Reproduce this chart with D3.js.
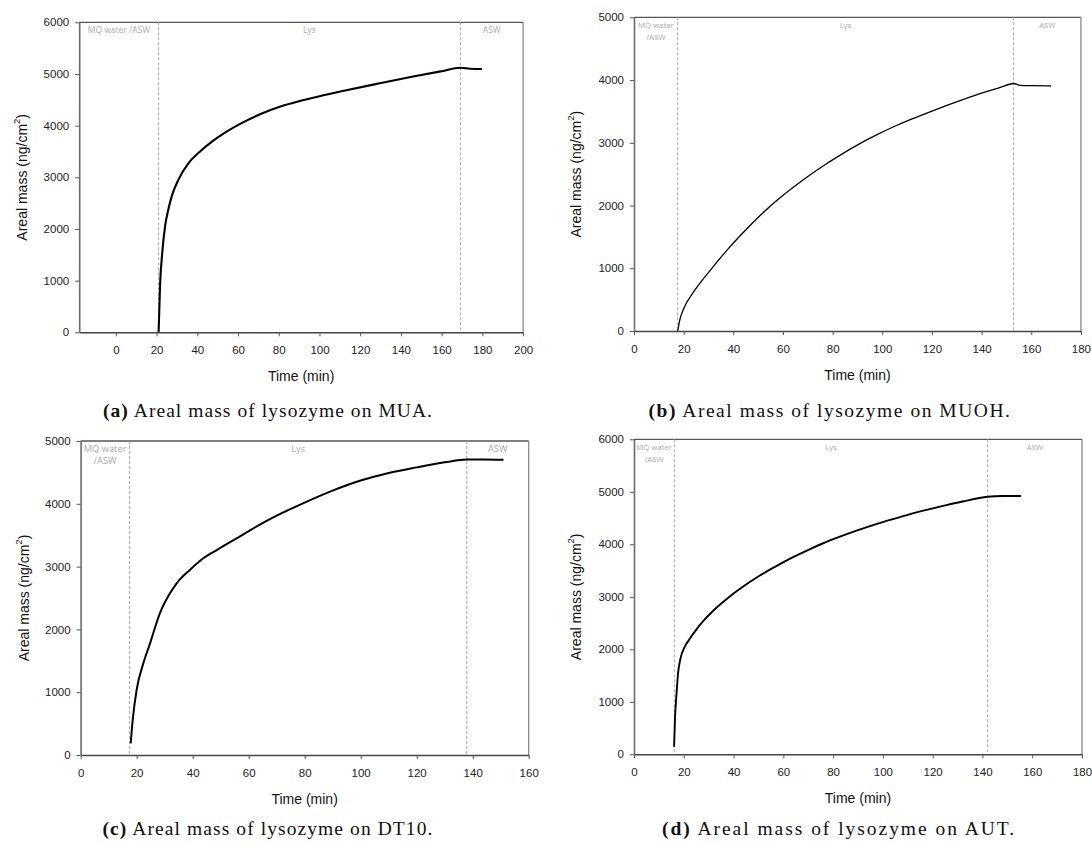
<!DOCTYPE html>
<html><head><meta charset="utf-8">
<script src="https://cdn.jsdelivr.net/npm/d3@7"></script>
<style>body{margin:0;background:#fff} svg{display:block}</style>
</head><body>
<svg id="chart" width="1092" height="845"></svg>
<script>
// ---------- DATA ----------
// (a) MUA
const timeA = [21.0, 21.7, 22.8, 24.2, 25.8, 27.5, 30.8, 35.8, 40.8, 47.5, 54.2, 60.8, 70.8, 80.8, 90.8, 100, 112, 129, 146, 159.5, 169.2, 174, 179.8];
const massA = [0, 900, 1545, 2060, 2380, 2640, 2960, 3280, 3480, 3700, 3880, 4030, 4220, 4370, 4480, 4570, 4675, 4815, 4950, 5050, 5120, 5100, 5095];
// (b) MUOH
const timeB = [17.6, 18.4, 20, 24, 30.7, 37.4, 44.2, 50.9, 57.6, 64.3, 71, 77.7, 84.4, 91.1, 97.9, 104.6, 112, 119, 126, 133, 140, 147, 152.9, 155.5, 160, 168];
const massB = [0, 170, 356, 622, 967, 1286, 1578, 1844, 2083, 2295, 2490, 2670, 2835, 2990, 3130, 3255, 3380, 3490, 3595, 3695, 3790, 3875, 3945, 3915, 3910, 3905];
// (c) DT10
const timeC = [17.9, 18.6, 20, 22.4, 24.8, 28.3, 31.9, 34.3, 39, 43.8, 48.6, 55.7, 62.9, 70, 80, 90, 100, 110, 120, 130, 137.9, 144, 151];
const massC = [186, 557, 1035, 1460, 1778, 2256, 2574, 2734, 2946, 3132, 3264, 3450, 3640, 3810, 4020, 4210, 4370, 4490, 4580, 4660, 4705, 4705, 4700];
// (d) AUT
const timeD = [16.1, 16.5, 17.1, 17.7, 18.7, 20.4, 22.4, 25.1, 27.7, 31.7, 37, 43.7, 50.4, 57, 63.7, 70.3, 76, 83, 90, 97, 104, 111, 118, 125, 132, 142.1, 148, 155.5];
const massD = [145, 716, 1162, 1543, 1829, 2050, 2200, 2380, 2530, 2730, 2950, 3190, 3400, 3580, 3750, 3900, 4020, 4150, 4270, 4380, 4480, 4575, 4660, 4740, 4815, 4905, 4920, 4921];

// phase switch times (dashed lines)
const phasesA = [21.0, 169.2];
const phasesB = [17.6, 152.9];
const phasesC = [17.5, 137.9];
const phasesD = [16.2, 142.1];

// tick labels
const xTicksA = [0, 20, 40, 60, 80, 100, 120, 140, 160, 180, 200];
const xTicksB = [0, 20, 40, 60, 80, 100, 120, 140, 160, 180];
const xTicksC = [0, 20, 40, 60, 80, 100, 120, 140, 160];
const xTicksD = [0, 20, 40, 60, 80, 100, 120, 140, 160, 180];
const yTicks6000 = [0, 1000, 2000, 3000, 4000, 5000, 6000];
const yTicks5000 = [0, 1000, 2000, 3000, 4000, 5000];

const phaseLabelsOneLine = [["MQ water /ASW"], ["Lys"], ["ASW"]];
const phaseLabelsTwoLine = [["MQ water", "/ASW"], ["Lys"], ["ASW"]];
const captionLetters = ["(a)", "(b)", "(c)", "(d)"];
const captionTexts = [" Areal mass of lysozyme on MUA.", " Areal mass of lysozyme on MUOH.",
                      " Areal mass of lysozyme on DT10.", " Areal mass of lysozyme on AUT."];
const xTitle = "Time (min)";
const yTitle = "Areal mass (ng/cm";

// ---------- LAYOUT ----------
const svg = d3.select("#chart");
const panels = [
  {time: timeA, mass: massA, phases: phasesA, xTicks: xTicksA, yTicks: yTicks6000, xDomain: [-18, 200], yDomain: [0, 6000],
   l: 79.2, r: 523.1, t: 22.3, b: 332.3, labels: phaseLabelsOneLine, annSize: 8.5, ylx: 22.4, capX: 268, capY: 416.5, capW: 330, sw: 2.1},
  {time: timeB, mass: massB, phases: phasesB, xTicks: xTicksB, yTicks: yTicks5000, xDomain: [0, 180], yDomain: [0, 5000],
   l: 634, r: 1080.9, t: 17.3, b: 331, labels: phaseLabelsTwoLine, annSize: 7.8, ylx: 576.4, capX: 830, capY: 416.5, capW: 363, sw: 1.3},
  {time: timeC, mass: massC, phases: phasesC, xTicks: xTicksC, yTicks: yTicks5000, xDomain: [0, 160], yDomain: [0, 5000],
   l: 80.6, r: 528.7, t: 441, b: 755, labels: phaseLabelsTwoLine, annSize: 9.3, ylx: 23.6, capX: 268, capY: 834.5, capW: 331, sw: 2.0},
  {time: timeD, mass: massD, phases: phasesD, xTicks: xTicksD, yTicks: yTicks6000, xDomain: [0, 180], yDomain: [0, 6000],
   l: 634, r: 1082, t: 439.3, b: 754.3, labels: phaseLabelsTwoLine, annSize: 7.8, ylx: 575.7, capX: 839, capY: 834.5, capW: 354, sw: 1.9}
];

panels.forEach((p, i) => {
  const x = d3.scaleLinear().domain(p.xDomain).range([p.l, p.r]);
  const y = d3.scaleLinear().domain(p.yDomain).range([p.b, p.t]);
  const g = svg.append("g");

  // frame top / right
  g.append("line").attr("x1", p.l).attr("x2", p.r).attr("y1", p.t).attr("y2", p.t)
    .attr("stroke", "#555").attr("stroke-width", 1.3);
  g.append("line").attr("x1", p.r).attr("x2", p.r).attr("y1", p.t).attr("y2", p.b)
    .attr("stroke", "#8a8a8a").attr("stroke-width", 1.3);

  // dashed phase lines
  g.selectAll(".ph").data(p.phases).join("line")
    .attr("x1", d => x(d)).attr("x2", d => x(d)).attr("y1", p.t).attr("y2", p.b)
    .attr("stroke", "#a8a8a8").attr("stroke-width", 1).attr("stroke-dasharray", "3,2");

  // phase labels
  const bounds = [p.l, x(p.phases[0]), x(p.phases[1]), p.r];
  p.labels.forEach((lines, k) => {
    const cx = (bounds[k] + bounds[k + 1]) / 2;
    lines.forEach((s, j) => {
      g.append("text").attr("x", cx).attr("y", p.t + 10.5 + j * 12)
        .attr("text-anchor", "middle").attr("font-family", "'Open Sans', sans-serif")
        .attr("font-size", p.annSize).attr("fill", "#ababab").text(s);
    });
  });

  // data line
  const line = d3.line().x(d => x(d[0])).y(d => y(d[1])).curve(d3.curveMonotoneX);
  g.append("path").datum(d3.zip(p.time, p.mass)).attr("d", line)
    .attr("fill", "none").attr("stroke", "#000").attr("stroke-width", p.sw).attr("stroke-linejoin", "round");

  // axes
  const xa = g.append("g").attr("transform", `translate(0,${p.b})`)
    .call(d3.axisBottom(x).tickValues(p.xTicks).tickSize(4).tickSizeOuter(0).tickPadding(10).tickFormat(d3.format("d")));
  const ya = g.append("g").attr("transform", `translate(${p.l},0)`)
    .call(d3.axisLeft(y).tickValues(p.yTicks).tickSize(4).tickSizeOuter(0).tickPadding(6).tickFormat(d3.format("d")));
  [xa, ya].forEach(a => {
    a.selectAll("text").attr("font-family", "'Liberation Sans', Arial, sans-serif").attr("font-size", 11.5).attr("fill", "#222");
    a.selectAll(".tick line").attr("stroke", "#555");
  });
  xa.select(".domain").attr("stroke", "#444").attr("stroke-width", 1.4);
  ya.select(".domain").attr("stroke", "#6a6a6a").attr("stroke-width", 1.6);

  // axis titles
  g.append("text").attr("x", (p.l + p.r) / 2).attr("y", p.b + 49)
    .attr("text-anchor", "middle").attr("font-family", "'Liberation Sans', Arial, sans-serif")
    .attr("font-size", 14).attr("fill", "#111").text(xTitle);
  const yl = g.append("text").attr("transform", `translate(${p.ylx + 5},${(p.t + p.b) / 2}) rotate(-90)`)
    .attr("text-anchor", "middle").attr("font-family", "'Liberation Sans', Arial, sans-serif")
    .attr("font-size", 14).attr("fill", "#111");
  yl.append("tspan").text(yTitle);
  yl.append("tspan").attr("dy", -7).attr("font-size", 9.5).text("2");
  yl.append("tspan").attr("dy", 7).text(")");

  // caption
  const cap = svg.append("text").attr("x", p.capX).attr("y", p.capY)
    .attr("text-anchor", "middle").attr("font-family", "'Liberation Serif', 'Times New Roman', serif")
    .attr("font-size", 19.5).attr("fill", "#111");
  cap.append("tspan").attr("font-weight", "bold").text(captionLetters[i]);
  cap.append("tspan").text(captionTexts[i]);
  const natural = cap.node().getComputedTextLength();
  const n = (captionLetters[i] + captionTexts[i]).length;
  cap.attr("letter-spacing", Math.max(0, (p.capW - natural) / n));
});
</script>
</body></html>
